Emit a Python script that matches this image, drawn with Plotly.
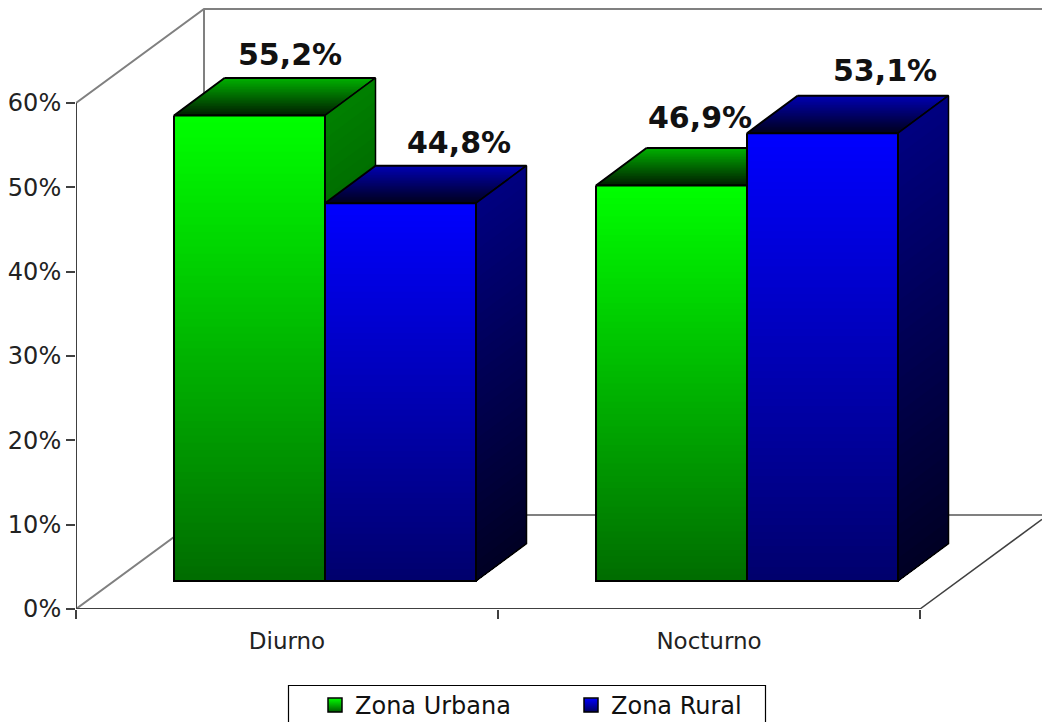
import plotly.graph_objects as go

categories = ["Diurno", "Nocturno"]
series_names = ["Zona Urbana", "Zona Rural"]
urbana = [55.2, 46.9]
rural = [44.8, 53.1]
y_ticks = [0, 10, 20, 30, 40, 50, 60]
y_tick_labels = ["0%", "10%", "20%", "30%", "40%", "50%", "60%"]

# ---- layout constants (pixel geometry of the drawing) ----
W, H = 1042, 722
FIG_H = 780                   # the legend frame runs past the visible page and is cut off there
MARGIN_B = 20
PAPER_H = FIG_H - MARGIN_B
AX_L, AX_B = 76, 609          # pixel position of the axes origin
PX_PER_CAT = 422.0
PX_PER_PCT = 8.433
FONT = "DejaVu Sans"


def dx(px):
    return px / PX_PER_CAT


def dy(px):
    return px / PX_PER_PCT


WALL_X, WALL_Y = dx(128), dy(94)
PLANE_X, PLANE_Y = dx(38), dy(28)
DEPTH_X, DEPTH_Y = dx(50.5), dy(37.5)
GAP = dx(60)
BAR_W = dx(151)

# label offsets from the bar's top-front centre, in pixels
LABEL_SHIFT = [[(40, 61), (58, 61)], [(28, 68), (62, 63)]]

fig = go.Figure()


def line(xs, ys, color, width):
    fig.add_trace(go.Scatter(x=xs, y=ys, mode="lines", showlegend=False, hoverinfo="skip",
                             cliponaxis=False,
                             line=dict(color=color, width=width, simplify=False)))


def mix(a, b, t):
    return tuple(a[i] + (b[i] - a[i]) * t for i in range(len(a)))


def rgb(c):
    return "rgb(%d,%d,%d)" % tuple(round(v) for v in c)


def face(A, B, C, D, c0, c1, n):
    """Gradient from edge AB to edge DC, painted as nested polygons so no seams show."""
    for i in range(n):
        t = i / n
        P, Q = mix(A, D, t), mix(B, C, t)
        col = rgb(mix(c0, c1, (i + 0.5) / n))
        fig.add_trace(go.Scatter(x=[P[0], Q[0], C[0], D[0], P[0]], y=[P[1], Q[1], C[1], D[1], P[1]],
                                 mode="lines", fill="toself", fillcolor=col, line=dict(width=0),
                                 showlegend=False, hoverinfo="skip"))


def outline(A, B, C, D, width=2):
    line([A[0], B[0], C[0], D[0], A[0]], [A[1], B[1], C[1], D[1], A[1]], "black", width)


def bar(x0, value, hue):
    x1 = x0 + BAR_W
    yb, yt = PLANE_Y, PLANE_Y + value
    f = lambda v: tuple(v * h for h in hue)
    # top face (back bright, front dark)
    A, B = (x0 + DEPTH_X, yt + DEPTH_Y), (x1 + DEPTH_X, yt + DEPTH_Y)
    C, D = (x1, yt), (x0, yt)
    face(A, B, C, D, f(178), f(28), 24)
    outline(A, B, C, D)
    # right face
    A, B = (x1, yt), (x1 + DEPTH_X, yt + DEPTH_Y)
    C, D = (x1 + DEPTH_X, yb + DEPTH_Y), (x1, yb)
    face(A, B, C, D, f(128), f(36), 40)
    outline(A, B, C, D, 1.5)
    # front face
    A, B, C, D = (x0, yt), (x1, yt), (x1, yb), (x0, yb)
    face(A, B, C, D, f(255), f(108), 64)
    outline(A, B, C, D)


# back wall and floor
right = (W - AX_L) / PX_PER_CAT
top_v = y_ticks[-1]
line([0, WALL_X, right], [top_v, top_v + WALL_Y, top_v + WALL_Y], "#808080", 2)
line([WALL_X, WALL_X], [WALL_Y, top_v + WALL_Y], "#808080", 2)
line([0, WALL_X, right], [0, WALL_Y, WALL_Y], "#808080", 2)
line([len(categories), len(categories) + (right - len(categories))],
     [0, (right - len(categories)) * WALL_Y / WALL_X], "#404040", 1.5)

# bars
GREEN, BLUE = (0, 1, 0), (0, 0, 1)
annotations = []
for c in range(len(categories)):
    x_start = c + PLANE_X + GAP
    for s, (values, hue) in enumerate([(urbana, GREEN), (rural, BLUE)]):
        x0 = x_start + s * BAR_W
        bar(x0, values[c], hue)
        sx, sy = LABEL_SHIFT[c][s]
        annotations.append(dict(x=x0 + BAR_W / 2, y=PLANE_Y + values[c], xref="x", yref="y",
                                text=("%.1f%%" % values[c]).replace(".", ","),
                                showarrow=False, xshift=sx, yshift=sy,
                                font=dict(family=FONT, size=30, weight=700, color="#111111"),
                                xanchor="center", yanchor="middle"))

# axes lines
line([0, 0], [0, top_v], "#404040", 2)
line([0, len(categories)], [0, 0], "#404040", 2)

# legend entries
for name, top, bottom in [(series_names[0], "rgb(0,255,0)", "rgb(0,90,0)"),
                          (series_names[1], "rgb(0,0,255)", "rgb(0,0,90)")]:
    fig.add_trace(go.Scatter(x=[None], y=[None], mode="markers", name=name, hoverinfo="skip",
                             marker=dict(symbol="square", size=14, color=top,
                                         gradient=dict(type="vertical", color=bottom),
                                         line=dict(color="black", width=1.5))))

fig.update_layout(
    width=W, height=FIG_H, autosize=False,
    margin=dict(l=AX_L, r=0, t=0, b=MARGIN_B, pad=0),
    paper_bgcolor="white", plot_bgcolor="white",
    font=dict(family=FONT, size=23, color="#222222"),
    hovermode=False,
    annotations=annotations,
    xaxis=dict(range=[0, right], showgrid=False, zeroline=False, showline=False,
               tickmode="array", tickvals=[i + 0.5 for i in range(len(categories))],
               ticktext=categories, ticks="", ticklabelstandoff=16, tickfont=dict(size=23),
               minor=dict(tickmode="array", tickvals=list(range(len(categories) + 1)),
                          ticks="outside", ticklen=9, tickwidth=1.5, tickcolor="#404040")),
    yaxis=dict(domain=[(PAPER_H - AX_B) / PAPER_H, 1], range=[0, AX_B / PX_PER_PCT], showgrid=False,
               zeroline=False, showline=False,
               tickmode="array", tickvals=y_ticks, ticktext=y_tick_labels,
               ticks="outside", ticklen=9, tickwidth=1.5, tickcolor="#404040",
               tickfont=dict(size=24)),
    showlegend=True,
    legend=dict(orientation="h", x=(315 - AX_L) / (W - AX_L), y=(PAPER_H - 728) / PAPER_H,
                xanchor="left", yanchor="bottom", bgcolor="rgba(0,0,0,0)",
                entrywidth=211, entrywidthmode="pixels", traceorder="normal",
                font=dict(family=FONT, size=24, color="#111111"), itemclick=False),
    shapes=[dict(type="rect", xref="paper", yref="paper",
                 x0=(288.5 - AX_L) / (W - AX_L), x1=(765.5 - AX_L) / (W - AX_L),
                 y0=(PAPER_H - 740) / PAPER_H, y1=(PAPER_H - 685.5) / PAPER_H,
                 line=dict(color="black", width=1.2), fillcolor="rgba(0,0,0,0)", layer="below")],
)

fig.write_html("out.html", config=dict(displayModeBar=False),
               post_script=("document.documentElement.style.overflow='hidden';"
                            "document.body.style.margin='0';document.body.style.overflow='hidden';"
                            "document.body.style.height='%dpx';"
                            "var g=document.querySelector('.plotly-graph-div').parentElement;"
                            "g.style.height='%dpx';g.style.overflow='hidden';") % (H, H))
